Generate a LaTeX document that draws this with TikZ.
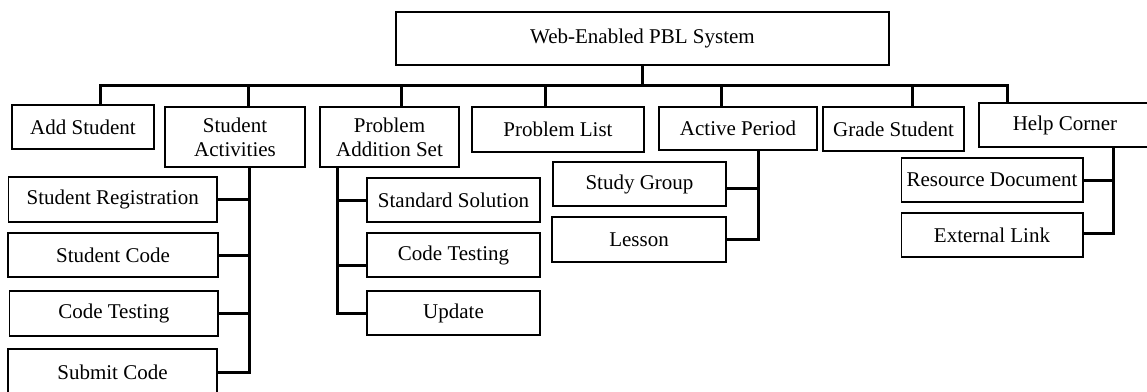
\documentclass[tikz,border=0pt]{standalone}
\usepackage{fontspec}
\setmainfont{Liberation Serif}
\tikzset{
  box/.style={draw=black, line width=1.5pt, inner sep=0pt, align=center,
              font=\fontsize{21}{24}\selectfont},
  wire/.style={line width=3pt, line cap=rect},
}
\newcommand{\boxat}[5]{% name, cx, cy, w, h
  \node[box, minimum width=#4pt, minimum height=#5pt] (#1) at (#2,#3)}
\begin{document}
\begin{tikzpicture}[x=1pt, y=-1pt]
\useasboundingbox (0,0) rectangle (1147,391);
\clip (0,0) rectangle (1147,391);
\fill[white] (0,0) rectangle (1147,391);

% root
\boxat{root}{642.5}{38.5}{493}{53} {Web-Enabled PBL System};

% first level
\boxat{addst}{83}{127}{142}{44} {Add Student};
\boxat{stact}{235}{137}{140}{60} {Student\\Activities};
\boxat{probadd}{389.5}{137}{139}{60} {Problem\\Addition Set};
\boxat{problist}{558}{129.5}{172}{45} {Problem List};
\boxat{actper}{738}{128.5}{158}{43} {Active Period};
\boxat{grade}{893.5}{129}{141}{44} {Grade Student};
\boxat{help}{1065}{125}{172}{44} {Help Corner};

% student activities
\boxat{streg}{112.7}{199.5}{208.6}{45} {Student Registration};
\boxat{stcode}{113}{255}{210}{44} {Student Code};
\boxat{sttest}{113.8}{313.5}{208.4}{45} {Code Testing};
\boxat{stsub}{112.5}{372}{209}{46} {Submit Code};

% problem addition set
\boxat{stdsol}{453.5}{200}{173}{44} {Standard Solution};
\boxat{ptest}{453.5}{255}{173}{44} {Code Testing};
\boxat{update}{453.5}{313}{173}{44} {Update};

% active period
\boxat{group}{639.5}{184}{173}{44} {Study Group};
\boxat{lesson}{639}{239.5}{174}{45} {Lesson};

% help corner
\boxat{resdoc}{992}{180}{181.5}{44} {Resource Document};
\boxat{extlink}{992}{235}{181.5}{44} {External Link};

% main bus with drops to the first level
\coordinate (busL) at (100.6,85);
\coordinate (busR) at (1007,85);
\draw[wire] (root.south) -- (root.south |- busL);
\draw[wire] (busL) -- (busR);
\foreach \n/\x in {addst/100.6, stact/248.7, probadd/401, problist/545,
                   actper/721, grade/912, help/1007}{
  \coordinate (drop-\n) at (\x,85);
  \draw[wire] (drop-\n) -- (drop-\n |- \n.north);
}

% student activities branch
\coordinate (saS) at (249,167);
\draw[wire] (saS) -- (saS |- stsub.east);
\foreach \n in {streg, stcode, sttest, stsub}
  \draw[wire] (\n.east) -- (\n.east -| saS);

% problem addition set branch
\coordinate (paS) at (337,167);
\coordinate (ptestW) at ([yshift=-10pt]ptest.west);
\draw[wire] (paS) -- (paS |- update.west);
\draw[wire] (stdsol.west) -- (stdsol.west -| paS);
\draw[wire] (ptestW) -- (ptestW -| paS);
\draw[wire] (update.west) -- (update.west -| paS);

% active period branch
\coordinate (apS) at (758.7,150);
\coordinate (groupE) at ([yshift=-4pt]group.east);
\draw[wire] (apS) -- (apS |- lesson.east);
\draw[wire] (groupE) -- (groupE -| apS);
\draw[wire] (lesson.east) -- (lesson.east -| apS);

% help corner branch
\coordinate (hcS) at (1113.6,147);
\coordinate (extE) at ([yshift=2pt]extlink.east);
\draw[wire] (hcS) -- (hcS |- extE);
\draw[wire] (resdoc.east) -- (resdoc.east -| hcS);
\draw[wire] (extE) -- (extE -| hcS);
\end{tikzpicture}
\end{document}
